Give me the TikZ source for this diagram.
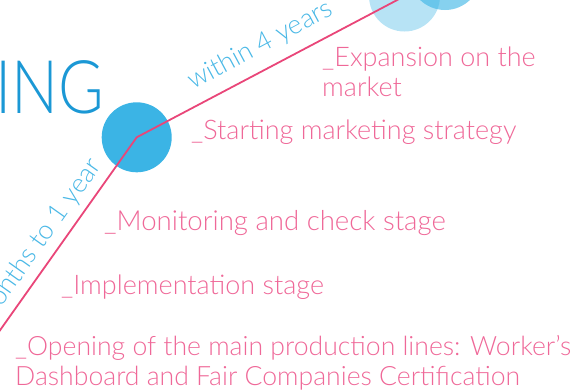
\documentclass[tikz,border=0pt]{standalone}
\usepackage{fontspec}
\IfFontExistsTF{Lato Light}{\setmainfont{Lato Light}}{\setmainfont{Lato}}
\definecolor{pinkline}{HTML}{E94679}
\definecolor{pinktext}{HTML}{EF6898}
\definecolor{dotblue}{HTML}{3BB4E5}
\definecolor{ingblue}{HTML}{1B98D5}
\definecolor{spanblue}{HTML}{4AB8E6}
\tikzset{
  dotc/.style={circle, fill=dotblue, inner sep=0pt, minimum size=70pt},
  stage/.style={anchor=base west, inner sep=0pt, text=pinktext, font=\fontsize{27}{30}\selectfont, align=left},
  span/.style={inner sep=0pt, text=spanblue, font=\fontsize{26.5}{28}\selectfont},
  route/.style={draw=pinkline, line width=1.8pt},
}
\begin{document}
\begin{tikzpicture}[x=1pt,y=-1pt]
\useasboundingbox (0,0) rectangle (585,391);
\clip (0,0) rectangle (585,391);
\node[dotc, fill opacity=0.37, minimum size=71pt] (c3) at (404.5,-4) {};
\node[dotc, fill opacity=0.62, minimum size=72pt] (c4) at (445,-26) {};
\node[dotc] (c2) at (136.7,137.3) {};
\coordinate (s) at (-10,344.4);
\coordinate (b) at (136.7,137.3);
\coordinate (e) at (420,-12);
\draw[route] (s) -- (b) -- (e);
\node[anchor=base west, inner sep=0pt, text=ingblue, font=\fontsize{74}{74}\selectfont, xscale=0.84] (ing) at (-5,113) {ING};
\node[span, anchor=base west, rotate=28.2] (t4) at (193,90) {within 4 years};
\node[span, anchor=base east, rotate=54.6] (t1) at (102,166) {months to 1 year};
\node[stage] (exp) at (322,96) {\_Expansion on the\\market};
\node[stage] (sta) at (191,139.5) {\_Starting marketing strategy};
\node[stage, font=\fontsize{27.6}{30}\selectfont] (mon) at (104,230) {\_Monitoring and check stage};
\node[stage] (imp) at (61,294) {\_Implementation stage};
\node[stage, font=\fontsize{26.6}{29.5}\selectfont] (ope) at (15,385) {\_Opening of the main production lines: Worker's\\Dashboard and Fair Companies Certification};
\end{tikzpicture}
\end{document}
